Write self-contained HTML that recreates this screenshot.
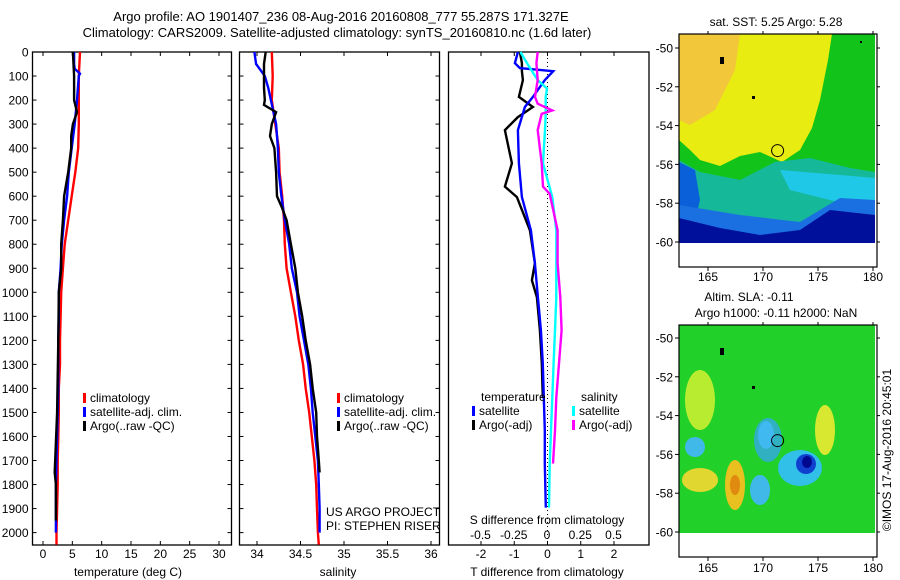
<!DOCTYPE html>
<html><head><meta charset="utf-8"><style>
html,body{margin:0;padding:0;background:#fff;}
svg{display:block;font-family:"Liberation Sans",sans-serif;}
text{font-size:12px;fill:#000;}
</style></head><body>
<svg id="chart" width="900" height="580" viewBox="0 0 900 580">
<text x="341" y="21" text-anchor="middle" style="font-size:13px">Argo profile: AO 1901407_236 08-Aug-2016 20160808_777 55.287S 171.327E</text>
<text x="337" y="37" text-anchor="middle" style="font-size:13px">Climatology: CARS2009. Satellite-adjusted climatology: synTS_20160810.nc (1.6d later)</text>
<g id="p1"></g>
<g id="p2"></g>
<g id="p3"></g>
<g id="m1"></g>
<g id="m2"></g>
<text transform="translate(891,450) rotate(-90)" text-anchor="middle">©IMOS 17-Aug-2016 20:45:01</text>
</svg>
<script>
// ---- temperature panel data ----
const tDepthClim = [0,100,200,300,400,500,600,700,800,900,1000,1100,1200,1300,1400,1500,1600,1700,1800,1900,2000,2050];
const tClim = [6.3,6.1,6.1,6.1,6.0,5.5,4.9,4.3,3.7,3.4,3.1,3.0,2.9,2.9,2.7,2.7,2.6,2.5,2.5,2.4,2.3,2.3];
const tDepthSat = [0,50,70,90,100,200,300,400,500,600,700,800,900,1000,1100,1200,1400,1600,1800,2000];
const tSat = [5.3,5.3,5.4,6.3,6.1,5.8,5.4,4.9,4.4,4.1,3.6,3.2,3.0,2.7,2.7,2.6,2.6,2.4,2.2,2.2];
const tDepthArgo = [0,100,200,250,300,350,400,500,600,700,800,900,1000,1200,1500,1750,1800,1950];
const tArgo = [5.1,5.3,5.3,5.8,5.1,4.8,4.8,4.3,3.6,3.4,3.1,3.1,2.7,2.6,2.4,2.0,2.2,2.2];
const tTicks = [0,5,10,15,20,25,30];
const depthTicks = [0,100,200,300,400,500,600,700,800,900,1000,1100,1200,1300,1400,1500,1600,1700,1800,1900,2000];
// ---- salinity panel data ----
const sDepthClim = [0,100,200,300,400,500,600,700,800,900,1000,1100,1200,1300,1400,1500,1600,1700,1800,1900,2000,2050];
const sClim = [34.17,34.18,34.17,34.21,34.25,34.26,34.29,34.31,34.32,34.34,34.39,34.44,34.48,34.53,34.56,34.60,34.63,34.66,34.68,34.69,34.70,34.71];
const sDepthSat = [0,50,70,100,150,200,300,400,500,600,700,800,900,1000,1100,1200,1300,1400,1500,1600,1700,1800,1900,2000];
const sSat = [33.97,33.99,34.03,34.09,34.13,34.16,34.22,34.24,34.25,34.28,34.32,34.37,34.40,34.46,34.49,34.54,34.59,34.62,34.64,34.67,34.70,34.71,34.72,34.72];
const sDepthArgo = [0,50,100,150,200,220,250,300,350,400,500,600,650,700,800,900,1000,1100,1200,1300,1400,1500,1600,1700,1750];
const sArgo = [34.10,34.08,34.08,34.08,34.09,34.08,34.22,34.17,34.15,34.20,34.22,34.23,34.29,34.34,34.39,34.44,34.47,34.52,34.56,34.61,34.64,34.68,34.69,34.71,34.72];
const sTicks = [34,34.5,35,35.5,36];
const sTickLabels = ["34","34.5","35","35.5","36"];
// ---- difference panel data ----
const dDepthTSat = [0,46,67,80,117,187,229,325,463,604,742,879,1021,1158,1296,1438,1575,1713,1896];
const dTSat = [-0.89,-0.98,-0.83,0.17,-0.08,-0.44,-0.68,-0.89,-0.86,-0.77,-0.5,-0.38,-0.29,-0.2,-0.14,-0.11,-0.08,-0.08,-0.05];
const dDepthTArgo = [0,46,80,117,187,229,271,325,463,560,604,742,879,950,1021,1158,1296,1440];
const dTArgo = [-0.83,-0.77,-0.77,-0.74,-0.86,-0.44,-0.89,-1.28,-1.07,-1.28,-0.92,-0.53,-0.38,-0.47,-0.32,-0.23,-0.17,-0.14];
const dDepthSSat = [0,46,117,152,187,257,325,463,604,742,879,1021,1158,1296,1438,1575,1713,1896];
const dSSat = [-0.20,-0.15,-0.07,0,-0.01,-0.01,-0.015,-0.03,0.04,0.07,0.07,0.07,0.06,0.05,0.04,0.03,0.02,0.015];
const dDepthSArgo = [0,46,117,187,215,243,257,325,463,560,590,742,879,1021,1158,1296,1438,1575,1713];
const dSArgo = [-0.07,-0.08,-0.07,-0.09,-0.07,0.04,-0.04,-0.07,-0.04,-0.03,0.02,0.08,0.08,0.1,0.11,0.09,0.07,0.06,0.045];
const dTTicks = [-2,-1,0,1,2];
const dSTicks = [-0.5,-0.25,0,0.25,0.5];
const dSTickLabels = ["-0.5","-0.25","0","0.25","0.5"];
// ---- maps ----
const latTicks = [-50,-52,-54,-56,-58,-60];
const lonTicks = [165,170,175,180];
const argoLat = -55.287, argoLon = 171.327;

const NS = "http://www.w3.org/2000/svg";
function mk(parent, tag, attrs, txt){
  const e = document.createElementNS(NS, tag);
  for (const k in attrs) e.setAttribute(k, attrs[k]);
  if (txt !== undefined) e.textContent = txt;
  parent.appendChild(e); return e;
}
const PT = 52, PB = 545;
const yD = d => PT + (d) * 0.2403;
function lin(d0,d1,r0,r1){ return v => r0 + (v-d0)*(r1-r0)/(d1-d0); }

function frame(g, x0, x1, nameTag){
  const r = mk(g,'rect',{x:x0,y:PT,width:x1-x0,height:PB-PT,fill:'none',stroke:'#000','stroke-width':1.3});
  
  
}
function depthTicksFn(g, x0, x1, labels){
  depthTicks.forEach(d=>{
    const y = yD(d);
    mk(g,'line',{x1:x0,y1:y,x2:x0+4,y2:y,stroke:'#000'});
    mk(g,'line',{x1:x1,y1:y,x2:x1-4,y2:y,stroke:'#000'});
    if(labels){
      const t = mk(g,'text',{x:x0-4,y:y+4.5,'text-anchor':'end'}, String(d));
      
      
    }
  });
}
function series(g, xs, ds, xf, color, name){
  const pts = xs.map((v,i)=> xf(v).toFixed(1)+','+yD(ds[i]).toFixed(1)).join(' ');
  const p = mk(g,'polyline',{points:pts,fill:'none',stroke:color,'stroke-width':2.4,'stroke-linejoin':'miter'});
  
  
}
function legend(g, x, y, items){
  items.forEach((it,i)=>{
    const yy = y + i*14;
    mk(g,'rect',{x:x,y:yy-9,width:3,height:10,fill:it[1]});
    const t = mk(g,'text',{x:x+7,y:yy}, it[0]);
    
    
  });
}

// Panel 1
(function(){
  const g = document.getElementById('p1');
  const x0=32.5, x1=231.5;
  const xf = lin(0,30,43,219);
  frame(g,x0,x1,'temperature');
  depthTicksFn(g,x0,x1,true);
  tTicks.forEach(v=>{
    const x = xf(v);
    mk(g,'line',{x1:x,y1:PT,x2:x,y2:PT+4,stroke:'#000'});
    mk(g,'line',{x1:x,y1:PB,x2:x,y2:PB-4,stroke:'#000'});
    const t = mk(g,'text',{x:x,y:558,'text-anchor':'middle'}, String(v));
    
    
  });
  series(g,tClim,tDepthClim,xf,'#f00','temperature-climatology-line');
  series(g,tSat,tDepthSat,xf,'#00f','temperature-satellite-line');
  series(g,tArgo,tDepthArgo,xf,'#000','temperature-argo-line');
  legend(g,83,402,[['climatology','#f00'],['satellite-adj. clim.','#00f'],['Argo(..raw -QC)','#000']]);
  const t = mk(g,'text',{x:128,y:576,'text-anchor':'middle'},'temperature (deg C)');
  
  
})();

// Panel 2
(function(){
  const g = document.getElementById('p2');
  const x0=239.5, x1=439.5;
  const xf = lin(34,36,257,431);
  frame(g,x0,x1,'salinity');
  depthTicksFn(g,x0,x1,false);
  sTicks.forEach((v,i)=>{
    const x = xf(v);
    mk(g,'line',{x1:x,y1:PT,x2:x,y2:PT+4,stroke:'#000'});
    mk(g,'line',{x1:x,y1:PB,x2:x,y2:PB-4,stroke:'#000'});
    const t = mk(g,'text',{x:x,y:558,'text-anchor':'middle'}, sTickLabels[i]);
    
    
  });
  series(g,sClim,sDepthClim,xf,'#f00','salinity-climatology-line');
  series(g,sSat,sDepthSat,xf,'#00f','salinity-satellite-line');
  series(g,sArgo,sDepthArgo,xf,'#000','salinity-argo-line');
  legend(g,337,402,[['climatology','#f00'],['satellite-adj. clim.','#00f'],['Argo(..raw -QC)','#000']]);
  const a = mk(g,'text',{x:326,y:516},'US ARGO PROJECT');
  
  
  const b = mk(g,'text',{x:326,y:530},'PI: STEPHEN RISER');
  
  
  const t = mk(g,'text',{x:338,y:576,'text-anchor':'middle'},'salinity');
  
  
})();

// Panel 3
(function(){
  const g = document.getElementById('p3');
  const x0=448.5, x1=649;
  const xT = lin(-2,2,481,614);
  const xS = lin(-0.5,0.5,480.5,613.5);
  frame(g,x0,x1,'difference');
  dTTicks.forEach(v=>{
    const x = xT(v);
    mk(g,'line',{x1:x,y1:PT,x2:x,y2:PT+4,stroke:'#000'});
    mk(g,'line',{x1:x,y1:PB,x2:x,y2:PB-4,stroke:'#000'});
    const t = mk(g,'text',{x:x,y:558,'text-anchor':'middle'}, String(v));
    
    
  });
  dSTicks.forEach((v,i)=>{
    const t = mk(g,'text',{x:xS(v),y:539,'text-anchor':'middle'}, dSTickLabels[i]);
    
    
  });
  const z = xT(0);
  mk(g,'line',{x1:z,y1:PT+2,x2:z,y2:PB,stroke:'#000','stroke-dasharray':'1,3'});
  series(g,dTArgo,dDepthTArgo,xT,'#000','t-diff-argo-line');
  series(g,dTSat,dDepthTSat,xT,'#00f','t-diff-satellite-line');
  series(g,dSSat,dDepthSSat,xS,'#0ff','s-diff-satellite-line');
  series(g,dSArgo,dDepthSArgo,xS,'#f0f','s-diff-argo-line');
  const h1 = mk(g,'text',{x:481,y:401},'temperature');
  
  
  const h2 = mk(g,'text',{x:581,y:401},'salinity');
  
  
  legend(g,472,415,[['satellite','#00f'],['Argo(-adj)','#000']]);
  legend(g,572,415,[['satellite','#0ff'],['Argo(-adj)','#f0f']]);
  const s = mk(g,'text',{x:547,y:524,'text-anchor':'middle'},'S difference from climatology');
  
  
  const t = mk(g,'text',{x:547,y:576,'text-anchor':'middle'},'T difference from climatology');
  
  
})();

function mapAxes(g, top, lat50y, bottom, labelY){
  const x0=679, x1=877;
  const lonX = lin(165,180,708,873);
  const latY = lin(-50,-60,lat50y,lat50y+194);
  mk(g,'rect',{x:x0,y:top,width:x1-x0,height:bottom-top,fill:'none',stroke:'#000','stroke-width':1.2});
  latTicks.forEach(v=>{
    const y = latY(v);
    mk(g,'line',{x1:x0-4,y1:y,x2:x0,y2:y,stroke:'#000'});
    mk(g,'line',{x1:x1,y1:y,x2:x1+3,y2:y,stroke:'#000'});
    const t = mk(g,'text',{x:673,y:y+4.5,'text-anchor':'end'}, String(v));
    
    
  });
  lonTicks.forEach(v=>{
    const x = lonX(v);
    mk(g,'line',{x1:x,y1:bottom,x2:x,y2:bottom+4,stroke:'#000'});
    mk(g,'line',{x1:x,y1:top,x2:x,y2:top-3,stroke:'#000'});
    const t = mk(g,'text',{x:x,y:labelY,'text-anchor':'middle'}, String(v));
    
    
  });
  const c = mk(g,'circle',{cx:lonX(argoLon),cy:latY(argoLat),r:6,fill:'none',stroke:'#000','stroke-width':1});
  
  
}

// SST map
(function(){
  const g = document.getElementById('m1');
  mk(g,'rect',{x:679,y:34,width:196,height:209,fill:'#12c41a'});
  mk(g,'polygon',{points:'679,34 832,34 828,60 820,100 812,128 800,150 782,162 760,152 740,156 720,166 700,160 690,150 679,140',fill:'#e8ec10'});
  mk(g,'polygon',{points:'679,34 740,34 735,70 715,110 690,125 679,120',fill:'#f2c83a'});
  mk(g,'polygon',{points:'679,160 700,172 740,180 775,162 810,158 850,168 875,172 875,243 679,243',fill:'#16b89a'});
  mk(g,'polygon',{points:'679,162 695,170 700,200 690,243 679,243',fill:'#0a60d8'});
  mk(g,'polygon',{points:'780,170 840,175 875,178 875,210 830,200 790,190',fill:'#20c8e8'});
  mk(g,'polygon',{points:'679,205 740,215 800,222 840,198 875,200 875,243 679,243',fill:'#1a70e0'});
  mk(g,'polygon',{points:'679,218 720,228 760,235 800,230 830,210 875,215 875,243 679,243',fill:'#00109a'});
  mk(g,'rect',{x:720,y:57,width:4,height:7,fill:'#000'});
  mk(g,'rect',{x:752,y:96,width:3,height:3,fill:'#000'});
  mk(g,'rect',{x:860,y:41,width:2,height:2,fill:'#000'});
  mapAxes(g,34,48,267,281);
  const t = mk(g,'text',{x:776,y:26,'text-anchor':'middle'},'sat. SST: 5.25 Argo: 5.28');
  
  
})();

// SLA map
(function(){
  const g = document.getElementById('m2');
  mk(g,'rect',{x:679,y:325,width:196,height:208,fill:'#22d02a'});
  mk(g,'ellipse',{cx:700,cy:400,rx:15,ry:30,fill:'#b8ec30'});
  mk(g,'ellipse',{cx:825,cy:430,rx:10,ry:25,fill:'#d8e830'});
  mk(g,'ellipse',{cx:700,cy:480,rx:18,ry:12,fill:'#e0d830'});
  mk(g,'ellipse',{cx:735,cy:485,rx:10,ry:25,fill:'#e8c020'});
  mk(g,'ellipse',{cx:735,cy:485,rx:5,ry:10,fill:'#e08a10'});
  mk(g,'ellipse',{cx:768,cy:440,rx:14,ry:22,fill:'#30b0c0'});
  mk(g,'ellipse',{cx:766,cy:435,rx:8,ry:14,fill:'#40b8f0'});
  mk(g,'ellipse',{cx:695,cy:447,rx:10,ry:10,fill:'#40b8e8'});
  mk(g,'ellipse',{cx:760,cy:490,rx:10,ry:15,fill:'#40b8e8'});
  mk(g,'ellipse',{cx:800,cy:468,rx:22,ry:18,fill:'#30c0e8'});
  mk(g,'ellipse',{cx:806,cy:464,rx:10,ry:10,fill:'#1040d0'});
  mk(g,'ellipse',{cx:807,cy:462,rx:5,ry:6,fill:'#000890'});
  mk(g,'rect',{x:720,y:348,width:4,height:7,fill:'#000'});
  mk(g,'rect',{x:752,y:386,width:3,height:3,fill:'#000'});
  mapAxes(g,325,338,557,572);
  const a = mk(g,'text',{x:749,y:301,'text-anchor':'middle'},'Altim. SLA: -0.11');
  
  
  const b = mk(g,'text',{x:776,y:317,'text-anchor':'middle'},'Argo h1000: -0.11 h2000: NaN');
  
  
})();
</script>
</body></html>
